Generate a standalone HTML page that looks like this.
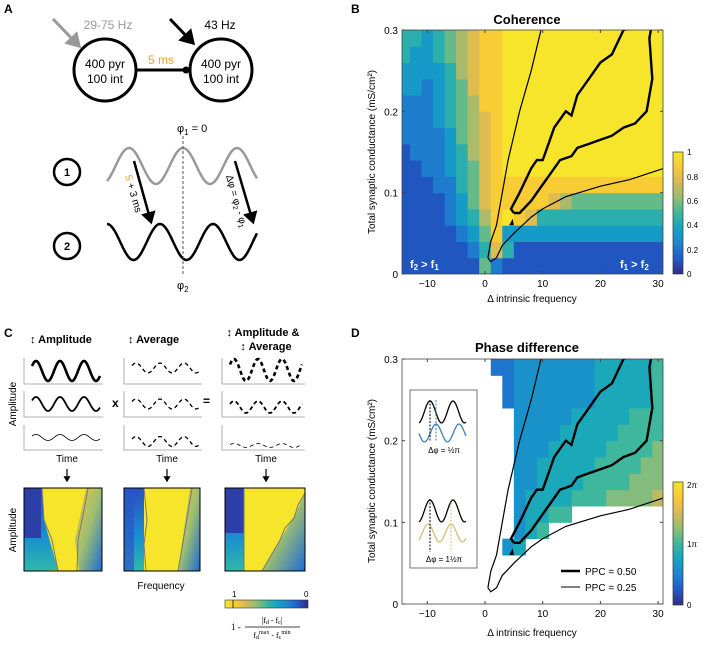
<!DOCTYPE html>
<html><head><meta charset="utf-8"><style>
html,body{margin:0;padding:0;background:#fff;}
svg{display:block;font-family:"Liberation Sans",sans-serif;}
</style></head><body>
<svg id="fig" width="703" height="645" viewBox="0 0 703 645" xmlns="http://www.w3.org/2000/svg">
<defs>
<marker id="ahB" markerWidth="6" markerHeight="6" refX="4" refY="3" orient="auto" markerUnits="strokeWidth"><path d="M0,0 L5,3 L0,6 z" fill="#000"/></marker>
<marker id="ahG" markerWidth="6" markerHeight="6" refX="4" refY="3" orient="auto" markerUnits="strokeWidth"><path d="M0,0 L5,3 L0,6 z" fill="#999"/></marker>
<clipPath id="clipB"><rect x="402" y="30" width="261" height="244"/></clipPath>
<clipPath id="clipD"><rect x="402" y="359" width="261" height="245"/></clipPath>
<linearGradient id="parulaV" x1="0" y1="1" x2="0" y2="0">
<stop offset="0" stop-color="#352a87"/><stop offset="0.125" stop-color="#1f5cc8"/><stop offset="0.25" stop-color="#1d85d0"/><stop offset="0.375" stop-color="#12a5c2"/><stop offset="0.5" stop-color="#3fb79c"/><stop offset="0.625" stop-color="#94bd74"/><stop offset="0.75" stop-color="#d8b858"/><stop offset="0.875" stop-color="#f8c936"/><stop offset="1" stop-color="#f6e52a"/></linearGradient>
<linearGradient id="parulaH" x1="1" y1="0" x2="0" y2="0">
<stop offset="0" stop-color="#352a87"/><stop offset="0.125" stop-color="#1f5cc8"/><stop offset="0.25" stop-color="#1d85d0"/><stop offset="0.375" stop-color="#12a5c2"/><stop offset="0.5" stop-color="#3fb79c"/><stop offset="0.625" stop-color="#94bd74"/><stop offset="0.75" stop-color="#d8b858"/><stop offset="0.875" stop-color="#f8c936"/><stop offset="1" stop-color="#f6e52a"/></linearGradient>
<linearGradient id="leftBlue" x1="0" y1="0" x2="0" y2="1"><stop offset="0" stop-color="#2a4fc0"/><stop offset="0.6" stop-color="#1a8fd0"/><stop offset="1" stop-color="#30b8a8"/></linearGradient>
<linearGradient id="rightOr" x1="0" y1="0" x2="1" y2="1"><stop offset="0" stop-color="#f5c23a"/><stop offset="0.5" stop-color="#9fbf70"/><stop offset="1" stop-color="#1a6bd8"/></linearGradient>
</defs>

<!-- Panel labels -->
<text x="4" y="13" font-size="12" font-weight="bold">A</text>
<text x="351" y="13" font-size="12" font-weight="bold">B</text>
<text x="4" y="337" font-size="12" font-weight="bold">C</text>
<text x="351" y="337" font-size="12" font-weight="bold">D</text>

<!-- Panel A -->
<g>
<line x1="137" y1="70" x2="190" y2="70" stroke="#000" stroke-width="3"/>
<circle cx="186" cy="70" r="3.5" fill="#000"/>
<circle cx="105" cy="70" r="31" fill="#fff" stroke="#000" stroke-width="3"/>
<circle cx="221" cy="70" r="31" fill="#fff" stroke="#000" stroke-width="3"/>
<text x="105" y="68" font-size="12" text-anchor="middle">400 pyr</text>
<text x="105" y="83" font-size="12" text-anchor="middle">100 int</text>
<text x="221" y="68" font-size="12" text-anchor="middle">400 pyr</text>
<text x="221" y="83" font-size="12" text-anchor="middle">100 int</text>
<text x="161" y="64" font-size="12" fill="#e8a030" text-anchor="middle">5 ms</text>
<line x1="53" y1="19" x2="79" y2="46" stroke="#999" stroke-width="3" marker-end="url(#ahG)"/>
<line x1="170" y1="19" x2="193" y2="43" stroke="#000" stroke-width="3" marker-end="url(#ahB)"/>
<text x="108" y="29" font-size="12" fill="#999" text-anchor="middle">29-75 Hz</text>
<text x="220" y="29" font-size="12" text-anchor="middle">43 Hz</text>
<circle cx="67" cy="172" r="13" fill="#fff" stroke="#000" stroke-width="2.5"/>
<text x="67" y="176" font-size="11" font-weight="bold" text-anchor="middle">1</text>
<circle cx="67" cy="246" r="13" fill="#fff" stroke="#000" stroke-width="2.5"/>
<text x="67" y="250" font-size="11" font-weight="bold" text-anchor="middle">2</text>
<path id="waveGray" d="" fill="none" stroke="#999" stroke-width="2.5"/>
<path id="waveBlack" d="" fill="none" stroke="#000" stroke-width="2.5"/>
<line x1="183" y1="136" x2="183" y2="274" stroke="#555" stroke-width="1" stroke-dasharray="3,2"/>
<text x="177" y="132" font-size="11">φ<tspan font-size="8" dy="3">1</tspan><tspan dy="-3"> = 0</tspan></text>
<text x="177" y="289" font-size="11">φ<tspan font-size="8" dy="3">2</tspan></text>
<line x1="134" y1="161" x2="151" y2="222" stroke="#000" stroke-width="2.5" marker-end="url(#ahB)"/>
<line x1="235" y1="161" x2="253" y2="222" stroke="#000" stroke-width="2.5" marker-end="url(#ahB)"/>
<text transform="translate(125,176) rotate(74)" font-size="10"><tspan fill="#e8a030">5</tspan> + 3 ms</text>
<text transform="translate(226,176) rotate(74)" font-size="10">Δφ = φ<tspan font-size="7" dy="2">2</tspan><tspan dy="-2"> - φ</tspan><tspan font-size="7" dy="2">1</tspan></text>
</g>

<!-- Panel B -->
<text x="527" y="24" font-size="13" font-weight="bold" text-anchor="middle">Coherence</text>
<g id="heatB" clip-path="url(#clipB)"></g>
<g id="contB" clip-path="url(#clipB)"></g>
<g id="axesB"></g>
<text x="410" y="268" font-size="11" font-weight="bold" fill="#fff">f<tspan font-size="8" dy="2">2</tspan><tspan dy="-2"> &gt; f</tspan><tspan font-size="8" dy="2">1</tspan></text>
<text x="620" y="268" font-size="11" font-weight="bold" fill="#fff">f<tspan font-size="8" dy="2">1</tspan><tspan dy="-2"> &gt; f</tspan><tspan font-size="8" dy="2">2</tspan></text>
<text transform="translate(375,152) rotate(-90)" font-size="10" text-anchor="middle">Total synaptic conductance (mS/cm²)</text>
<text x="532" y="302" font-size="10" text-anchor="middle">Δ intrinsic frequency</text>
<rect x="673" y="152" width="10" height="122" fill="url(#parulaV)" stroke="#333" stroke-width="0.7"/>
<g font-size="8">
<text x="687" y="155">1</text><text x="687" y="180">0.8</text><text x="687" y="204">0.6</text><text x="687" y="228">0.4</text><text x="687" y="253">0.2</text><text x="687" y="277">0</text></g>

<!-- Panel D -->
<text x="527" y="352" font-size="13" font-weight="bold" text-anchor="middle">Phase difference</text>
<g id="heatD" clip-path="url(#clipD)"></g>
<g id="contD" clip-path="url(#clipD)"></g>
<g id="axesD"></g>
<text transform="translate(375,481) rotate(-90)" font-size="10" text-anchor="middle">Total synaptic conductance (mS/cm²)</text>
<text x="532" y="636" font-size="10" text-anchor="middle">Δ intrinsic frequency</text>
<rect x="673" y="482" width="10" height="123" fill="url(#parulaV)" stroke="#333" stroke-width="0.7"/>
<g font-size="8"><text x="687" y="488">2π</text><text x="687" y="547">1π</text><text x="687" y="608">0</text></g>
<g>
<line x1="561" y1="571" x2="580" y2="571" stroke="#000" stroke-width="2.5"/>
<text x="585" y="575" font-size="10">PPC = 0.50</text>
<line x1="561" y1="587" x2="580" y2="587" stroke="#000" stroke-width="1"/>
<text x="585" y="591" font-size="10">PPC = 0.25</text>
</g>
<g>
<rect x="410" y="390" width="67" height="178" fill="#fff" stroke="#555" stroke-width="0.8"/>
<path id="insA1" d="" fill="none" stroke="#000" stroke-width="1.3"/>
<path id="insA2" d="" fill="none" stroke="#3c7fb8" stroke-width="1.3"/>
<path id="insB1" d="" fill="none" stroke="#000" stroke-width="1.3"/>
<path id="insB2" d="" fill="none" stroke="#cfc178" stroke-width="1.3"/>
<line x1="430" y1="400" x2="430" y2="442" stroke="#000" stroke-dasharray="2,1.5" stroke-width="1"/>
<line x1="436" y1="400" x2="436" y2="442" stroke="#3c7fb8" stroke-dasharray="2,1.5" stroke-width="1"/>
<text x="444" y="453" font-size="8" text-anchor="middle">Δφ = ½π</text>
<line x1="430" y1="499" x2="430" y2="552" stroke="#000" stroke-dasharray="2,1.5" stroke-width="1"/>
<line x1="451" y1="499" x2="451" y2="552" stroke="#cfc178" stroke-dasharray="2,1.5" stroke-width="1"/>
<text x="444" y="562" font-size="8" text-anchor="middle">Δφ = 1½π</text>
</g>

<!-- Panel C -->
<g font-size="11">
<text x="30" y="343" font-weight="bold">↕ Amplitude</text>
<text x="128" y="343" font-weight="bold">↕ Average</text>
<text x="263" y="336" font-weight="bold" text-anchor="middle">↕ Amplitude &amp;</text>
<text x="266" y="350" font-weight="bold" text-anchor="middle">↕ Average</text>
<text x="112" y="407" font-weight="bold" font-size="12">x</text>
<text x="203" y="405" font-weight="bold" font-size="12">=</text>
<text transform="translate(16,404) rotate(-90)" text-anchor="middle" font-size="10">Amplitude</text>
<text transform="translate(16,530) rotate(-90)" text-anchor="middle" font-size="10">Amplitude</text>
<g id="smallWaves"></g>
<text x="67" y="462" text-anchor="middle" font-size="10">Time</text>
<text x="167" y="462" text-anchor="middle" font-size="10">Time</text>
<text x="266" y="462" text-anchor="middle" font-size="10">Time</text>
<line x1="67" y1="469" x2="67" y2="481" stroke="#000" stroke-width="1.2" marker-end="url(#ahB)"/>
<line x1="167" y1="469" x2="167" y2="481" stroke="#000" stroke-width="1.2" marker-end="url(#ahB)"/>
<line x1="266" y1="469" x2="266" y2="481" stroke="#000" stroke-width="1.2" marker-end="url(#ahB)"/>
<g>
<rect x="24" y="488" width="78" height="83" fill="#f6e52a"/>
<polygon points="24,488 42,488 44,520 58,570 24,571" fill="url(#leftBlue)"/>
<rect x="24" y="488" width="17" height="50" fill="#2c3fa8"/>
<polygon points="86,488 102,488 102,571 79,571 75,540" fill="url(#rightOr)"/>
<path d="M42,488 L44,520 L52,540 L58,571 M88,488 L83,515 L78,540 L77,571" fill="none" stroke="#777" stroke-width="1"/>
<rect x="24" y="488" width="78" height="83" fill="none" stroke="#000"/>
</g>
<g>
<rect x="124" y="488" width="76" height="83" fill="#f6e52a"/>
<polygon points="124,488 144,488 144,571 124,571" fill="url(#leftBlue)"/>
<rect x="124" y="488" width="10" height="83" fill="#2a55c8" opacity="0.7"/>
<polygon points="190,488 200,488 200,571 178,571" fill="url(#rightOr)"/>
<path d="M144,488 L147,520 L144,545 L146,571 M192,488 L185,530 L178,571" fill="none" stroke="#777" stroke-width="1"/>
<rect x="124" y="488" width="76" height="83" fill="none" stroke="#000"/>
</g>
<g>
<rect x="225" y="488" width="80" height="83" fill="#f6e52a"/>
<rect x="225" y="488" width="19" height="83" fill="url(#leftBlue)"/>
<rect x="225" y="488" width="19" height="45" fill="#2c3fa8"/>
<polygon points="305,493 295,515 280,540 262,571 305,571" fill="url(#rightOr)"/>
<path d="M244,488 L244,571 M305,493 L298,505 L294,518 L285,528 L280,540 L262,571" fill="none" stroke="#777" stroke-width="1"/>
<rect x="225" y="488" width="80" height="83" fill="none" stroke="#000"/>
</g>
<text x="161" y="589" text-anchor="middle" font-size="10">Frequency</text>
<text x="232" y="597" font-size="8">1</text><text x="304" y="597" font-size="8">0</text>
<rect x="225" y="600" width="83" height="8" fill="url(#parulaH)" stroke="#333" stroke-width="0.6"/>
<line x1="233" y1="600" x2="233" y2="608" stroke="#333" stroke-width="1"/>
<text x="231" y="630" font-size="9" font-family="Liberation Serif">1 -</text>
<text x="272" y="623" font-size="8" font-family="Liberation Serif" text-anchor="middle">|f<tspan font-size="6" dy="1">d</tspan><tspan dy="-1"> - f</tspan><tspan font-size="6" dy="1">c</tspan><tspan dy="-1">|</tspan></text>
<line x1="245" y1="627" x2="300" y2="627" stroke="#000" stroke-width="0.7"/>
<text x="272" y="638" font-size="8" font-family="Liberation Serif" text-anchor="middle">f<tspan font-size="6" dy="1">d</tspan><tspan font-size="6" dy="-5">max</tspan><tspan dy="4"> - f</tspan><tspan font-size="6" dy="1">c</tspan><tspan font-size="6" dy="-5">min</tspan></text>
</g>
</svg>
<script>
// ---- Chart data ----
const xCategories = [-14,-12,-10,-8,-6,-4,-2,0,2,4,6,8,10,12,14,16,18,20,22,24,26,28,30];
const yBins = [0,0.02,0.04,0.06,0.08,0.10,0.12,0.14,0.16,0.18,0.20,0.22,0.24,0.26,0.28];
// coherence rows (bottom to top), digit d -> d/9
const coherenceRows = [
"11111115211111111111111",
"11111124741111111111111",
"11111235833333333333333",
"11112346898744444444444",
"11112357888887655555555",
"11122457888888888888888",
"11223457899999999999999",
"12223467899999999999999",
"22223567899999999999999",
"22234567899999999999999",
"22234568899999999999999",
"33234578899999999999999",
"33334678899999999999999",
"43345678899999999999999",
"44345678899999999999999"];
// phase rows (bottom to top), digit d -> d/10 * 2π, '.' = undefined
const phaseRows = [
".......................",
".......................",
".......................",
".........34............",
"..........345..........",
"..........34455........",
"..........3444455566667",
"..........3344445555666",
"..........3344444555566",
"..........3334444455556",
"..........3333444445555",
"..........3333344444555",
".........23333333444445",
".........23333333444445",
"........223333333444445"];
const yTicks = [0,0.1,0.2,0.3];
const xTicks = [-10,0,10,20,30];
const yTickLabels = ["0","0.1","0.2","0.3"];
const xTickLabels = ["\u221210","0","10","20","30"];
const ppc25Left = [[0.5,0.02],[1,0.04],[2,0.06],[3,0.1],[4,0.14],[6,0.2],[8,0.25],[9.7,0.3]];
const ppc25Right = [[0.5,0.02],[1,0.015],[2,0.02],[3,0.035],[5,0.05],[8,0.07],[10,0.08],[14,0.095],[20,0.108],[25,0.116],[31,0.13]];
const ppc50Loop = [[5,0.075],[4.5,0.08],[6,0.1],[8,0.13],[9,0.14],[10,0.14],[11,0.16],[12,0.18],[14,0.2],[15,0.195],[16,0.22],[18,0.24],[20,0.26],[22,0.27],[24,0.3],[29,0.31],[28.5,0.29],[29,0.24],[28,0.2],[26,0.185],[24,0.18],[22,0.17],[20,0.165],[18,0.16],[16,0.155],[15,0.145],[13,0.14],[11,0.12],[10,0.11],[8,0.09],[6,0.075],[5,0.075]];

// ---- helpers ----
const NS="http://www.w3.org/2000/svg";
const stops=[[0,[53,42,135]],[0.125,[31,92,200]],[0.25,[29,133,208]],[0.375,[18,165,194]],[0.5,[63,183,156]],[0.625,[148,189,116]],[0.75,[216,184,88]],[0.875,[248,201,54]],[1,[246,229,42]]];
function parula(t){t=Math.max(0,Math.min(1,t));for(let i=1;i<stops.length;i++){if(t<=stops[i][0]){const a=stops[i-1],b=stops[i];const f=(t-a[0])/(b[0]-a[0]);const c=a[1].map((v,k)=>Math.round(v+(b[1][k]-v)*f));return `rgb(${c[0]},${c[1]},${c[2]})`;}}return "rgb(246,229,42)";}
const xS=v=>485+v*5.77;
const yB=v=>274-v/0.3*244;
const yD=v=>604-v/0.3*245;
function mk(tag,attrs,parent){const e=document.createElementNS(NS,tag);for(const k in attrs)e.setAttribute(k,attrs[k]);parent.appendChild(e);return e;}

function drawHeat(gid,rows,ys,div){
  const g=document.getElementById(gid);
  rows.forEach((row,ri)=>{
    for(let ci=0;ci<xCategories.length;ci++){
      const ch=row[ci]; if(ch==='.')continue;
      const v=parseInt(ch)/div;
      const x0=xS(xCategories[ci]-1),x1=xS(xCategories[ci]+1);
      const yTop=ys(yBins[ri]+0.02),yBot=ys(yBins[ri]);
      const r=mk('rect',{x:x0,y:yTop,width:x1-x0+0.5,height:yBot-yTop+0.5,fill:parula(v)},g);
      
      
    }
  });
}
function drawContours(gid,ys){
  const g=document.getElementById(gid);
  const pd=pts=>pts.map((p,i)=>(i?'L':'M')+xS(p[0]).toFixed(1)+','+ys(p[1]).toFixed(1)).join(' ');
  let p=mk('path',{d:pd(ppc25Left),fill:'none',stroke:'#000','stroke-width':1.2},g);
  
  
  p=mk('path',{d:pd(ppc25Right),fill:'none',stroke:'#000','stroke-width':1.2},g);
  
  
  p=mk('path',{d:pd(ppc50Loop),fill:'none',stroke:'#000','stroke-width':2.4},g);
  
  
  p=mk('path',{d:pd([[4.2,0.06],[5,0.06],[4.8,0.068]])+' Z',fill:'#000'},g);
  
  
}
function drawAxes(gid,ys){
  const g=document.getElementById(gid);
  const L=402,R=663,T=ys(0.3),Bt=ys(0);
  mk('rect',{x:L,y:T,width:R-L,height:Bt-T,fill:'none',stroke:'#444','stroke-width':0.8},g);
  yTicks.forEach((t,i)=>{const y=ys(t);
    mk('line',{x1:L,y1:y,x2:L+3,y2:y,stroke:'#444'},g);mk('line',{x1:R,y1:y,x2:R-3,y2:y,stroke:'#444'},g);
    const tx=mk('text',{x:L-4,y:y+4,'font-size':10,'text-anchor':'end'},g);tx.textContent=yTickLabels[i];
    
    });
  xTicks.forEach((t,i)=>{const x=xS(t);
    mk('line',{x1:x,y1:Bt,x2:x,y2:Bt-3,stroke:'#444'},g);mk('line',{x1:x,y1:T,x2:x,y2:T+3,stroke:'#444'},g);
    const tx=mk('text',{x:x,y:Bt+13,'font-size':10,'text-anchor':'middle'},g);tx.textContent=xTickLabels[i];
    
    });
}
drawHeat('heatB',coherenceRows,yB,9);drawContours('contB',yB);drawAxes('axesB',yB);
drawHeat('heatD',phaseRows,yD,10);drawContours('contD',yD);drawAxes('axesD',yD);

// waves
function wave(x0,x1,yc,amp,period,phase){let d='';for(let x=x0;x<=x1;x+=1){const y=yc-amp*Math.cos(2*Math.PI*(x-phase)/period);d+=(x===x0?'M':'L')+x+','+y.toFixed(1);}return d;}
document.getElementById('waveGray').setAttribute('d',wave(107,257,166,18,54,183));
document.getElementById('waveBlack').setAttribute('d',wave(107,257,242,18,53,160));
document.getElementById('insA1').setAttribute('d',wave(419,466,412,11,23,430));
document.getElementById('insA2').setAttribute('d',wave(419,466,433,9,23,436));
document.getElementById('insB1').setAttribute('d',wave(419,466,511,11,23,430));
document.getElementById('insB2').setAttribute('d',wave(419,466,533,9,23,451));
const sw=document.getElementById('smallWaves');
const cols=[[24,103],[124,202],[222,305]];
const rowsY=[[358,384],[391,417],[425,450]];
const amps=[[10,7,3],[5,5,5],[11,6,2]];
const offs=[[0,0,0],[-3,0,4],[-1,3,8]];
const widths=[[2.6,1.8,0.8],[1.3,1.3,1.3],[2.6,1.8,0.8]];
cols.forEach((c,ci)=>rowsY.forEach((r,ri)=>{
  mk('path',{d:`M${c[0]},${r[0]} L${c[0]},${r[1]} L${c[1]},${r[1]}`,fill:'none',stroke:'#999','stroke-width':0.8},sw);
  const yc=(r[0]+r[1])/2+offs[ci][ri];
  const p=mk('path',{d:wave(c[0]+8,c[1]-3,yc,amps[ci][ri],24,c[0]+12),fill:'none',stroke:'#000','stroke-width':widths[ci][ri]},sw);
  if(ci>0)p.setAttribute('stroke-dasharray','4,3');
}));
</script>
</body></html>
